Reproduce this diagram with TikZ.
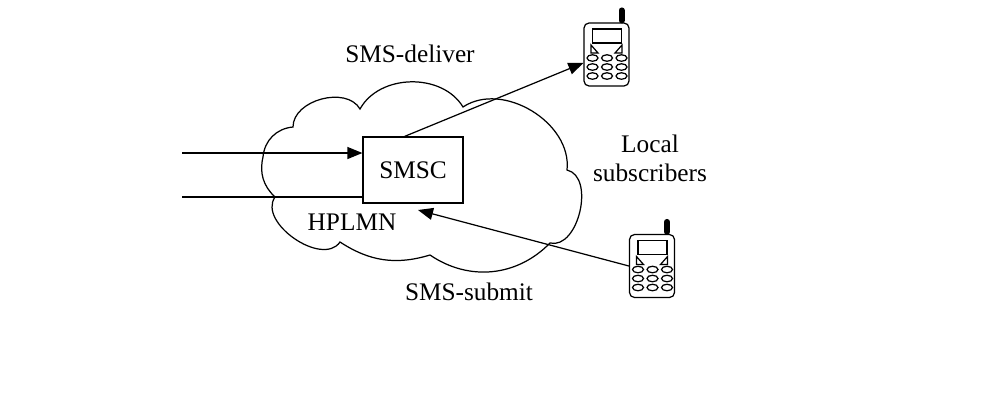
\documentclass[tikz,border=0pt]{standalone}
\usepackage{fontspec}
\setmainfont{Liberation Serif}
\usetikzlibrary{arrows.meta,calc}

% keypad, screen and antenna on a handset body
\newcommand{\handset}[1]{%
  \draw[line width=3.4pt,line cap=round] ($(#1.north)+(15,-2)$) -- ($(#1.north)+(15,-12)$);
  \draw ($(#1.center)+(-14,-25.5)$) rectangle ($(#1.center)+(15,-11.5)$);
  \draw ($(#1.center)+(-15.5,-9.5)$) -- ($(#1.center)+(-15.5,-1.5)$) -- ($(#1.center)+(-8.5,-1.5)$) -- cycle;
  \draw ($(#1.center)+(15.5,-9.5)$) -- ($(#1.center)+(15.5,-1.5)$) -- ($(#1.center)+(8.5,-1.5)$) -- cycle;
  \foreach \kx in {-14,0.5,15}
    \foreach \ky in {3.5,12.5,21.5}
      \draw ($(#1.center)+(\kx,\ky)$) ellipse [x radius=0.11cm, y radius=0.065cm];
}

\begin{document}
\begin{tikzpicture}[x=0.02cm,y=-0.02cm,line width=0.7pt,
    label/.style ={font=\fontsize{14.4}{16.5}\selectfont, align=center, inner sep=0pt},
    centre/.style ={draw, minimum width=2cm, minimum height=1.32cm, inner sep=0pt,
                    font=\fontsize{14.4}{16.5}\selectfont},
    handsetbody/.style ={draw, rounded corners=0.1cm, minimum width=0.9cm,
                    minimum height=1.26cm, inner sep=0pt},
    link/.style ={-{Triangle[length=0.3cm,width=0.24cm]}}]
   \useasboundingbox (0,0) rectangle (982,400);

   % the network cloud
   \draw (263,157) to[bend left=40] (293,127) to[bend left=75] (360,109)
      to[bend left=60] (463,107) to[bend left=65] (567,170)
      to[bend left=90] (550,243) to[bend left=40] (430,255)
      to[bend left=25] (340,242) to[bend left=90] (275,197)
      to[bend left=30] cycle;

   \node[centre] (smsc) at (413,170) {SMSC};
   \node[label] (hplmn) at (352,222) {HPLMN};
   \node[handsetbody] (p1) at (606.5,54.5) {};
   \node[handsetbody] (p2) at (652,266) {};
   \handset{p1}
   \handset{p2}

   \node[label] (deliver) at (410,54) {SMS-deliver};
   \node[label] (submit) at (469,292) {SMS-submit};
   \node[label] (local) at (650,158) {Local\\subscribers};

   \coordinate (in1) at (182,153);
   \coordinate (in2) at (182,197);
   \coordinate (sub) at (418,210);

   \draw[link] (in1) to (in1 -| smsc.west);
   \draw (in2) to (in2 -| smsc.west);
   \draw[link] (smsc.104) to (p1.200);
   \draw[link] (p2.west) to (sub);
 \end{tikzpicture}
\end{document}
